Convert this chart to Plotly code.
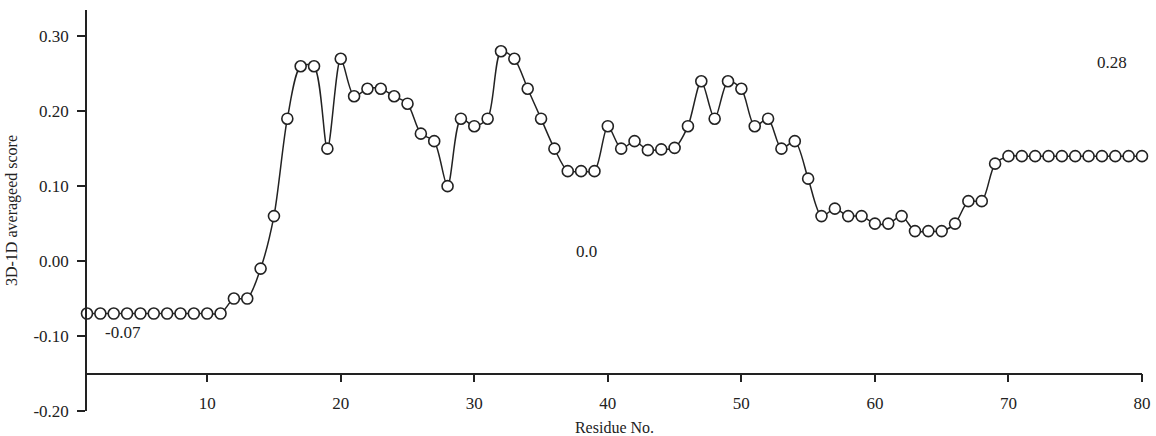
import plotly.graph_objects as go

residues = list(range(1, 81))
scores = [
    -0.07, -0.07, -0.07, -0.07, -0.07, -0.07, -0.07, -0.07, -0.07, -0.07,  # 1-10
    -0.07, -0.05, -0.05, -0.01, 0.06, 0.19, 0.26, 0.26, 0.15, 0.27,        # 11-20
    0.22, 0.23, 0.23, 0.22, 0.21, 0.17, 0.16, 0.10, 0.19, 0.18,            # 21-30
    0.19, 0.28, 0.27, 0.23, 0.19, 0.15, 0.12, 0.12, 0.12, 0.18,            # 31-40
    0.15, 0.16, 0.148, 0.149, 0.151, 0.18, 0.24, 0.19, 0.24, 0.23,         # 41-50
    0.18, 0.19, 0.15, 0.16, 0.11, 0.06, 0.07, 0.06, 0.06, 0.05,            # 51-60
    0.05, 0.06, 0.04, 0.04, 0.04, 0.05, 0.08, 0.08, 0.13, 0.14,            # 61-70
    0.14, 0.14, 0.14, 0.14, 0.14, 0.14, 0.14, 0.14, 0.14, 0.14,            # 71-80
]

y_ticks = [-0.20, -0.10, 0.00, 0.10, 0.20, 0.30]
x_ticks = [10, 20, 30, 40, 50, 60, 70, 80]

note_texts = ["-0.07", "0.0", "0.28"]
note_x = [3.7, 38.4, 77.75]
note_y = [-0.0947, 0.0133, 0.265]

y_min, y_max = -0.20, 0.335
x_axis_at = -0.15

FONT = "Liberation Serif"
INK = "#222222"

fig = go.Figure()
fig.add_trace(go.Scatter(
    x=residues, y=scores, mode="lines+markers",
    line=dict(color=INK, width=1.5, shape="spline", smoothing=0.8),
    marker=dict(symbol="circle", size=11, color="white",
                line=dict(color=INK, width=1.6)),
    cliponaxis=False, showlegend=False,
))

for t, xx, yy in zip(note_texts, note_x, note_y):
    fig.add_annotation(x=xx, y=yy, xref="x", yref="y", text=t,
                       showarrow=False, font=dict(family=FONT, size=17, color=INK))

fig.update_layout(
    width=1156, height=436,
    margin=dict(l=87, r=14, t=10, b=25, autoexpand=False),
    paper_bgcolor="white", plot_bgcolor="white",
    font=dict(family=FONT, color=INK),
    xaxis=dict(
        range=[1, 80], tickmode="array", tickvals=x_ticks,
        ticktext=[str(v) for v in x_ticks],
        showline=True, linecolor=INK, linewidth=1.5,
        ticks="outside", ticklen=8, tickwidth=1.5, tickcolor=INK,
        showgrid=False, zeroline=False, automargin=False,
        anchor="free", position=(x_axis_at - y_min) / (y_max - y_min),
        tickfont=dict(family=FONT, size=17, color=INK),
        ticklabelstandoff=6,
        title=dict(text="Residue No.", font=dict(family=FONT, size=16, color=INK), standoff=9),
    ),
    yaxis=dict(
        range=[y_min, y_max], tickmode="array", tickvals=y_ticks,
        ticktext=[f"{v:.2f}" for v in y_ticks],
        showline=True, linecolor=INK, linewidth=1.5,
        ticks="outside", ticklen=8, tickwidth=1.5, tickcolor=INK,
        showgrid=False, zeroline=False, automargin=False,
        tickfont=dict(family=FONT, size=17, color=INK),
        ticklabelstandoff=5,
        title=dict(text="3D-1D averageed score", font=dict(family=FONT, size=16, color=INK), standoff=12),
    ),
)

fig.write_html("out.html")
